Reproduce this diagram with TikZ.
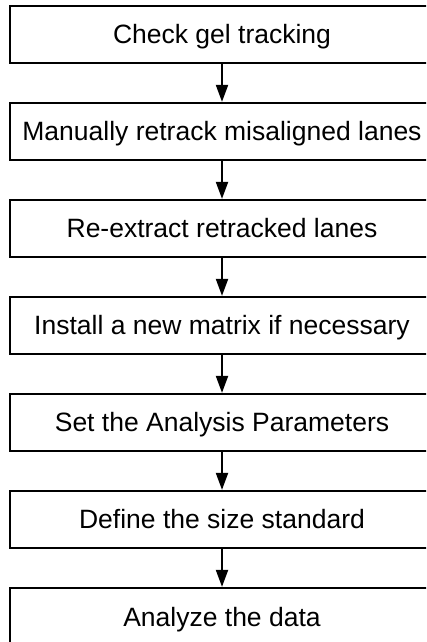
\documentclass[tikz,border=0pt]{standalone}
\usepackage{fontspec}
\setmainfont{Liberation Sans}
\usetikzlibrary{arrows.meta}
\begin{document}
\begin{tikzpicture}[x=1pt,y=1pt,
  stepbox/.style={draw=black, line width=2.2pt, rectangle, minimum width=424pt, minimum height=57pt, inner sep=0pt, text height=19pt, text depth=0pt, font=\fontsize{26.5}{30}\selectfont, text=black},
  flow/.style={line width=2pt, -{Triangle[length=17pt,width=12pt]}}]
\useasboundingbox (0,0) rectangle (426,642);
\clip (0,0) rectangle (426,642);
\node[stepbox] (b1) at (222,{642-34.5}) {Check gel tracking};
\node[stepbox] (b2) at (222,{642-34.5-97}) {Manually retrack misaligned lanes};
\node[stepbox] (b3) at (222,{642-34.5-2*97}) {Re-extract retracked lanes};
\node[stepbox] (b4) at (222,{642-34.5-3*97}) {Install a new matrix if necessary};
\node[stepbox] (b5) at (222,{642-34.5-4*97}) {Set the Analysis Parameters};
\node[stepbox] (b6) at (222,{642-34.5-5*97}) {Define the size standard};
\node[stepbox] (b7) at (222,{642-34.5-6*97}) {Analyze the data};
\draw[flow] (b1.south) -- (b2.north);
\draw[flow] (b2.south) -- (b3.north);
\draw[flow] (b3.south) -- (b4.north);
\draw[flow] (b4.south) -- (b5.north);
\draw[flow] (b5.south) -- (b6.north);
\draw[flow] (b6.south) -- (b7.north);
\end{tikzpicture}
\end{document}
